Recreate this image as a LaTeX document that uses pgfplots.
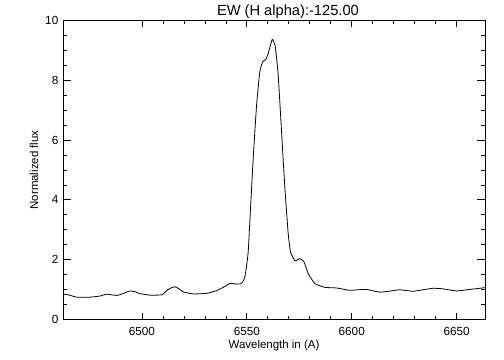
\documentclass[border=0pt]{standalone}
\usepackage{fontspec}
\setmainfont{Liberation Sans}
\usepackage{pgfplots}
\pgfplotsset{compat=1.18}
\begin{document}
\begin{tikzpicture}
\useasboundingbox (-47.25pt,-30.5pt) rectangle (330.75pt,239.5pt);
\pgfplotsset{
  common/.style={
    at={(0,0)}, anchor=south west,
    scale only axis, width=316.5pt, height=224.1pt,
    xmin=6462.4, xmax=6663.5, ymin=0, ymax=10,
    tick align=inside,
    axis line style={line width=0.6pt},
    every tick/.style={black, line width=0.5pt},
    /pgf/number format/assume math mode=true,
    tick label style={font=\fontsize{8.8}{10}\selectfont},
    scaled ticks=false,
  }
}
\begin{axis}[common,
  xtick={6500,6550,6600,6650}, minor x tick num=4,
  xtick pos=both, xticklabel pos=lower,
  ytick=\empty,
  major tick length=4.5pt, minor tick length=2.25pt,
  xticklabel style={anchor=base, yshift=-12.5pt, /pgf/number format/1000 sep={}},
  xlabel={Wavelength in (A)},
  xlabel style={at={(axis description cs:0.5,0)}, anchor=base, yshift=-22pt, font=\fontsize{8.6}{10}\selectfont},
  title={EW (H alpha):-125.00},
  title style={at={(axis description cs:0.533,1)}, anchor=base, yshift=-2.5pt, font=\fontsize{11}{13}\selectfont},
]
\addplot[black, line width=0.6pt, smooth, tension=0.3] coordinates {
(6462.4,0.85) (6465,0.82) (6469,0.74) (6475,0.74) (6480,0.78) (6483.2,0.84)
(6488,0.80) (6491,0.86) (6494.3,0.95) (6497,0.92) (6499,0.86) (6503.8,0.81)
(6509.4,0.82) (6511.8,0.96) (6513.5,1.04) (6515.7,1.09) (6517.5,1.03) (6519.7,0.92)
(6524.4,0.85) (6530.8,0.87) (6535.6,0.96) (6539,1.08) (6541.9,1.20) (6544,1.19)
(6546.7,1.18) (6548,1.25) (6549.1,1.43) (6550.6,2.21) (6551.8,3.77) (6553.0,5.33)
(6554.6,7.12) (6556.2,8.29) (6557.8,8.65) (6558.9,8.68) (6560.2,8.90) (6562.1,9.37)
(6563.5,9.15) (6564.9,8.23) (6566.5,6.34) (6568.1,4.44) (6569.7,2.88) (6570.8,2.26)
(6572.9,1.96) (6575.2,2.03) (6577.2,1.93) (6579.2,1.54) (6582.4,1.20) (6587.2,1.07)
(6592.7,1.05) (6599.1,0.97) (6603,0.99) (6607.0,1.00) (6613.4,0.91) (6619.7,0.96)
(6622.9,0.99) (6629.2,0.94) (6634,0.99) (6638.8,1.04) (6643.5,1.02) (6649.9,0.95)
(6656.2,1.00) (6663.5,1.06)
};
\end{axis}
\begin{axis}[common,
  xtick=\empty,
  ytick={0,2,4,6,8,10}, minor y tick num=3,
  ytick pos=both, yticklabel pos=left,
  major tick length=6.3pt, minor tick length=3.15pt,
  ylabel={Normalized flux},
  ylabel style={at={(axis description cs:-0.0687,0.5)}, anchor=center, font=\fontsize{8.6}{10}\selectfont},
]
\end{axis}
\end{tikzpicture}
\end{document}
